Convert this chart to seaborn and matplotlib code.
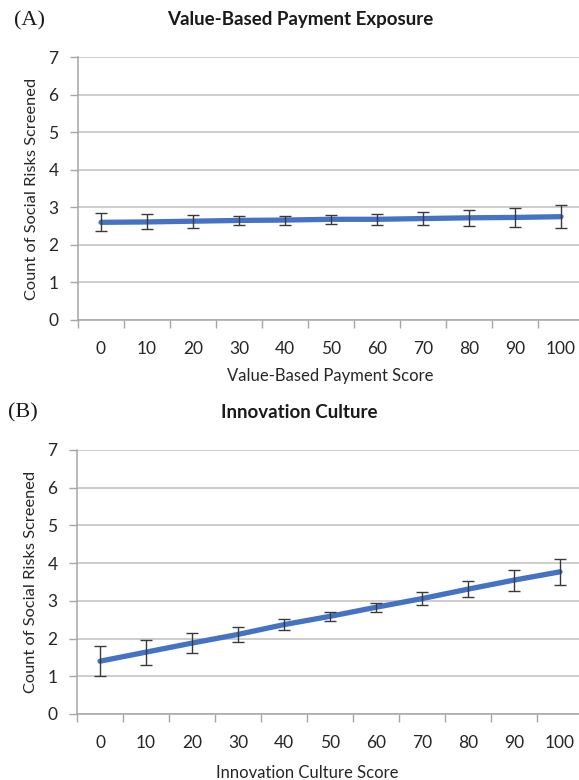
import numpy as np
import matplotlib
matplotlib.use("Agg")
import matplotlib.pyplot as plt
import seaborn as sns

# ---- data ----
scores = [0, 10, 20, 30, 40, 50, 60, 70, 80, 90, 100]

vbp_mean = [2.60, 2.61, 2.63, 2.65, 2.66, 2.68, 2.68, 2.70, 2.72, 2.73, 2.75]
vbp_err = [0.24, 0.20, 0.17, 0.13, 0.12, 0.12, 0.15, 0.18, 0.22, 0.26, 0.30]

inno_mean = [1.40, 1.64, 1.88, 2.11, 2.37, 2.59, 2.83, 3.06, 3.31, 3.55, 3.77]
inno_err = [0.40, 0.33, 0.26, 0.20, 0.15, 0.12, 0.12, 0.17, 0.22, 0.28, 0.34]

panels = [
    dict(tag="(A)", title="Value-Based Payment Exposure", xlabel="Value-Based Payment Score",
         mean=vbp_mean, err=vbp_err),
    dict(tag="(B)", title="Innovation Culture", xlabel="Innovation Culture Score",
         mean=inno_mean, err=inno_err),
]

sns.set_theme(style="white")
plt.rcParams["font.family"] = ["Lato", "DejaVu Sans"]

W, H = 579, 780
fig = plt.figure(figsize=(W / 100, H / 100), dpi=100)

LINE_BLUE = "#4472C4"
GRID = "#c0c0c0"

# axes boxes in pixels: left, top (value 7), bottom (value 0)
boxes = [(78, 57, 320), (77, 450, 714)]
tag_pos = [(30, 21), (23, 413)]
title_pos = [(300, 20), (299, 413)]
xlabel_pos = [(330, 376), (307, 773)]

pos = np.arange(len(scores))

for p, (left, top, bottom), tp, ttp, xlp in zip(panels, boxes, tag_pos, title_pos, xlabel_pos):
    right = left + 46 * len(scores)
    ax = fig.add_axes([left / W, 1 - bottom / H, (right - left) / W, (bottom - top) / H])

    sns.lineplot(x=pos, y=p["mean"], ax=ax, color=LINE_BLUE, linewidth=3.8,
                 solid_capstyle="round", zorder=3)
    ax.errorbar(pos, p["mean"], yerr=p["err"], fmt="none", ecolor="#3a3a3a",
                elinewidth=1.0, capsize=4, capthick=1.0, zorder=4)

    ax.set_xlim(-0.5, len(scores) - 0.5)
    ax.set_ylim(0, 7)
    ax.set_yticks(range(0, 8))
    ax.yaxis.grid(True, color=GRID, linewidth=1.1)
    ax.set_axisbelow(True)

    # category-style x axis: tick marks between categories, labels at centres
    ax.set_xticks(np.arange(-0.5, len(scores), 1.0))
    ax.set_xticklabels([])
    ax.set_xticks(pos, minor=True)
    ax.set_xticklabels([str(s) for s in scores], minor=True)
    ax.tick_params(axis="x", which="major", length=6, width=1, color="#a6a6a6", direction="out")
    ax.tick_params(axis="x", which="minor", length=0, pad=15, labelsize=12.5, labelcolor="#262626")
    ax.tick_params(axis="y", length=6, width=1, color="#a6a6a6", direction="out", pad=8,
                   labelsize=12.5, labelcolor="#262626")
    ax.tick_params(bottom=True, left=True)

    for side in ["top", "right"]:
        ax.spines[side].set_visible(False)
    for side in ["left", "bottom"]:
        ax.spines[side].set_color("#a6a6a6")
        ax.spines[side].set_linewidth(1.1)

    ax.set_ylabel("Count of Social Risks Screened", fontsize=11.8, color="#262626", labelpad=7)

    fig.text(tp[0] / W, 1 - tp[1] / H, p["tag"], family="Liberation Serif", fontsize=16,
             ha="center", va="center", color="#1a1a1a")
    fig.text(ttp[0] / W, 1 - ttp[1] / H, p["title"], fontsize=13.5, fontweight="bold",
             ha="center", va="center", color="#1a1a1a")
    fig.text(xlp[0] / W, 1 - xlp[1] / H, p["xlabel"], fontsize=12, ha="center", va="center",
             color="#262626")

fig.savefig("out.png", dpi=100)
